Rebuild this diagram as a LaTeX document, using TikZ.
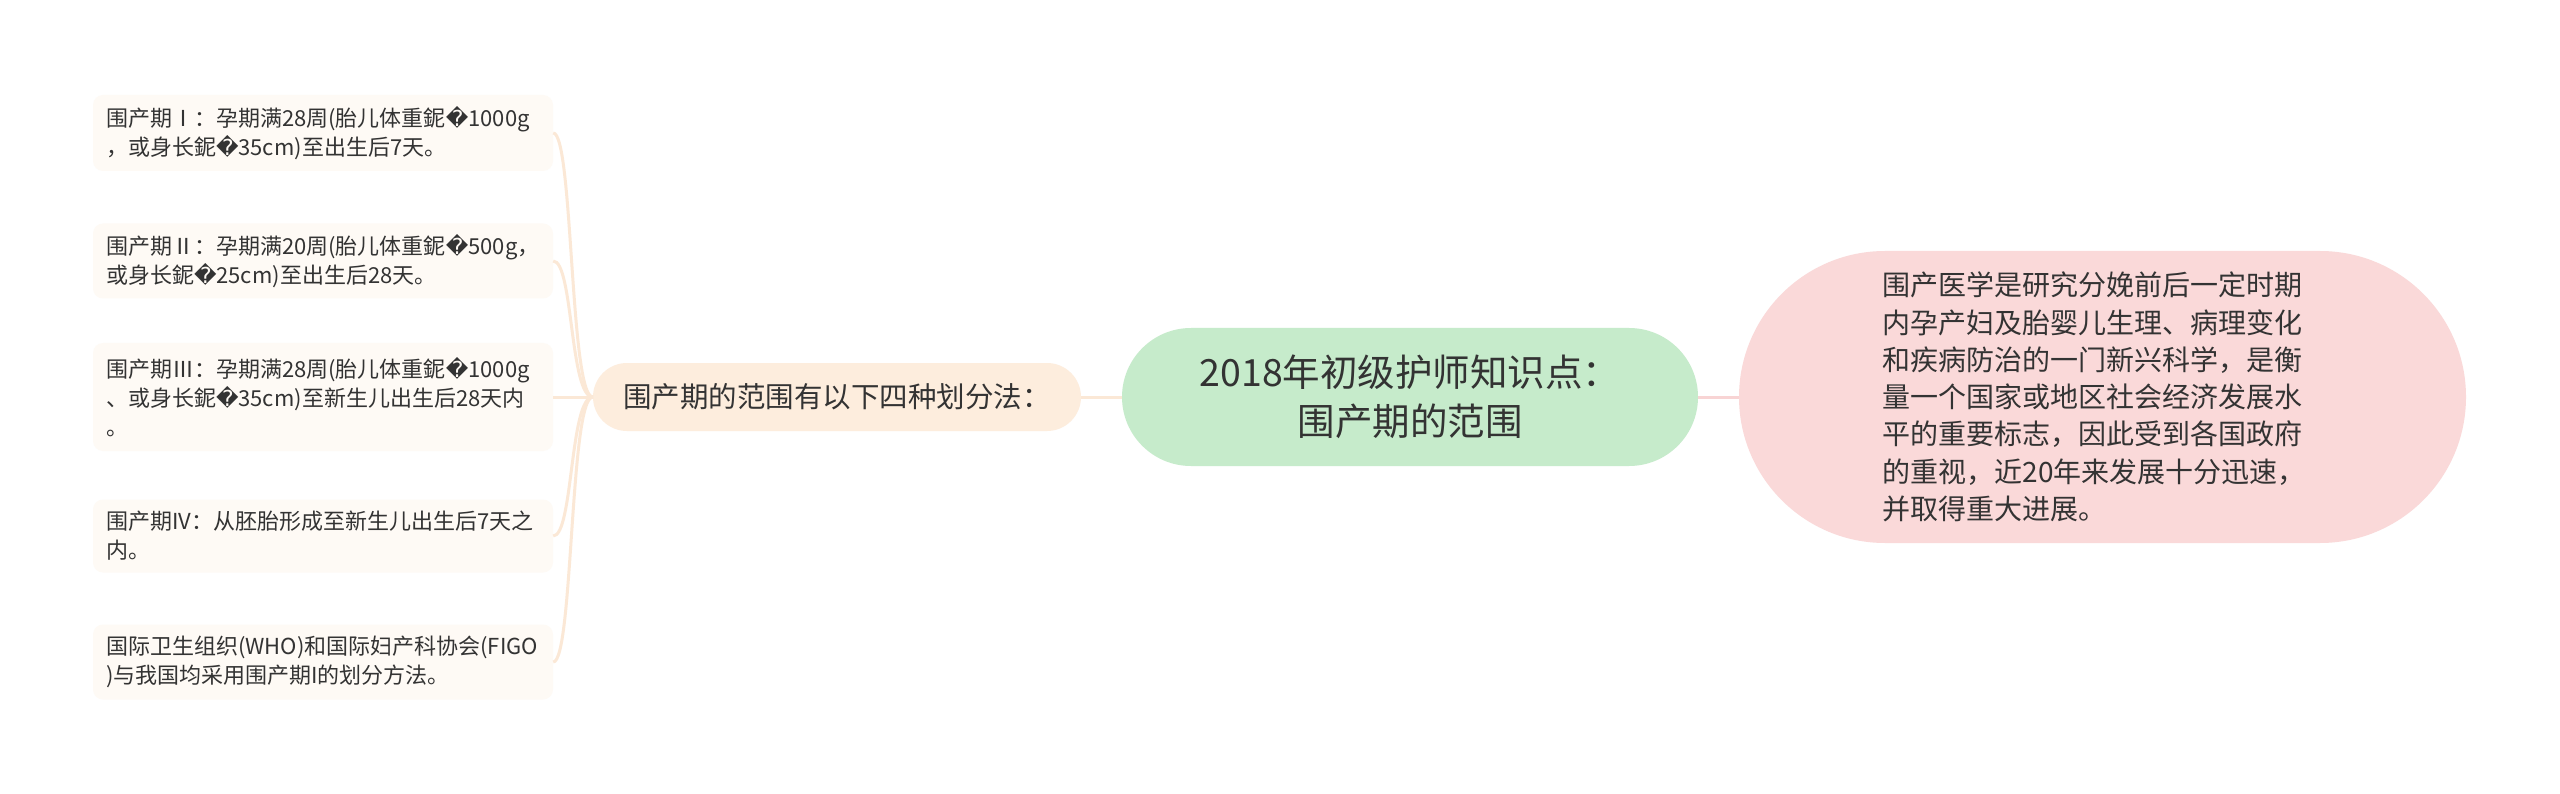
\documentclass[tikz,border=0pt]{standalone}
\usepackage{fontspec}
\setmainfont{Noto Sans CJK SC}
\newfontfamily\dvfont{DejaVu Sans}
\usetikzlibrary{shapes.misc}
\newcommand\repch{{\dvfont\char"FFFD}}
\definecolor{cgreen}{HTML}{C6EBCB}
\definecolor{cpink}{HTML}{FAD9D9}
\definecolor{cpeach}{HTML}{FDEDDD}
\definecolor{leaffill}{HTML}{FEFAF5}
\definecolor{lpeach}{HTML}{FBE8D6}
\definecolor{lpink}{HTML}{F8D4D4}
\definecolor{txt}{HTML}{333333}
\begin{document}
\begin{tikzpicture}[x=1pt,y=-1pt,
  leafbox/.style={fill=leaffill, rounded corners=10pt, text width=434pt, align=left,
    inner xsep=13pt, inner ysep=0pt, font=\fontsize{22}{29}\selectfont, text=txt},
  centralbox/.style={rounded rectangle, fill=cgreen, minimum width=576pt, minimum height=138pt,
    align=center, font=\fontsize{37.5}{49}\selectfont, text=txt, inner sep=0pt},
  midbox/.style={rounded rectangle, fill=cpeach, minimum width=488pt, minimum height=68pt,
    font=\fontsize{28.5}{34}\selectfont, text=txt, inner sep=0pt},
  rightbox/.style={rounded rectangle, fill=cpink, minimum width=727pt, minimum height=292pt,
    text width=440pt, align=left, font=\fontsize{28}{37.3}\selectfont, text=txt, inner sep=0pt},
  lconn/.style={draw=lpeach, line width=3pt},
  rconn/.style={draw=lpink, line width=3pt}]
\useasboundingbox (0,0) rectangle (2560,794);
\fill[white] (0,0) rectangle (2560,794);

\node[centralbox] (c) at (1410,397) {2018年初级护师知识点：\\围产期的范围};
\node[midbox] (m) at (837,397) {围产期的范围有以下四种划分法：};
\node[rightbox] (r) at (2102.5,397) {围产医学是研究分娩前后一定时期\\内孕产妇及胎婴儿生理、病理变化\\和疾病防治的一门新兴科学，是衡\\量一个国家或地区社会经济发展水\\平的重要标志，因此受到各国政府\\的重视，近20年来发展十分迅速，\\并取得重大进展。};

\node[leafbox, minimum height=76pt] (l1) at (323,133) {围产期Ⅰ：孕期满28周(胎儿体重鈮\repch1000g\\，或身长鈮\repch35cm)至出生后7天。};
\node[leafbox, minimum height=75pt] (l2) at (323,261) {围产期Ⅱ：孕期满20周(胎儿体重鈮\repch500g，\\或身长鈮\repch25cm)至出生后28天。};
\node[leafbox, minimum height=108pt] (l3) at (323,397) {围产期Ⅲ：孕期满28周(胎儿体重鈮\repch1000g\\、或身长鈮\repch35cm)至新生儿出生后28天内\\。};
\node[leafbox, minimum height=73pt] (l4) at (323,536) {围产期IV：从胚胎形成至新生儿出生后7天之\\内。};
\node[leafbox, minimum height=75pt] (l5) at (323,662) {国际卫生组织(WHO)和国际妇产科协会(FIGO\\)与我国均采用围产期I的划分方法。};

\draw[lconn] (c.west) -- (m.east);
\draw[rconn] (c.east) -- (r.west);
\draw[lconn] (m.west) -- (l3.east);
\draw[lconn] (m.west) .. controls +(-23,0) and +(20,0) .. (l1.east);
\draw[lconn] (m.west) .. controls +(-23,0) and +(20,0) .. (l2.east);
\draw[lconn] (m.west) .. controls +(-23,0) and +(20,0) .. (l4.east);
\draw[lconn] (m.west) .. controls +(-23,0) and +(20,0) .. (l5.east);
\end{tikzpicture}
\end{document}
